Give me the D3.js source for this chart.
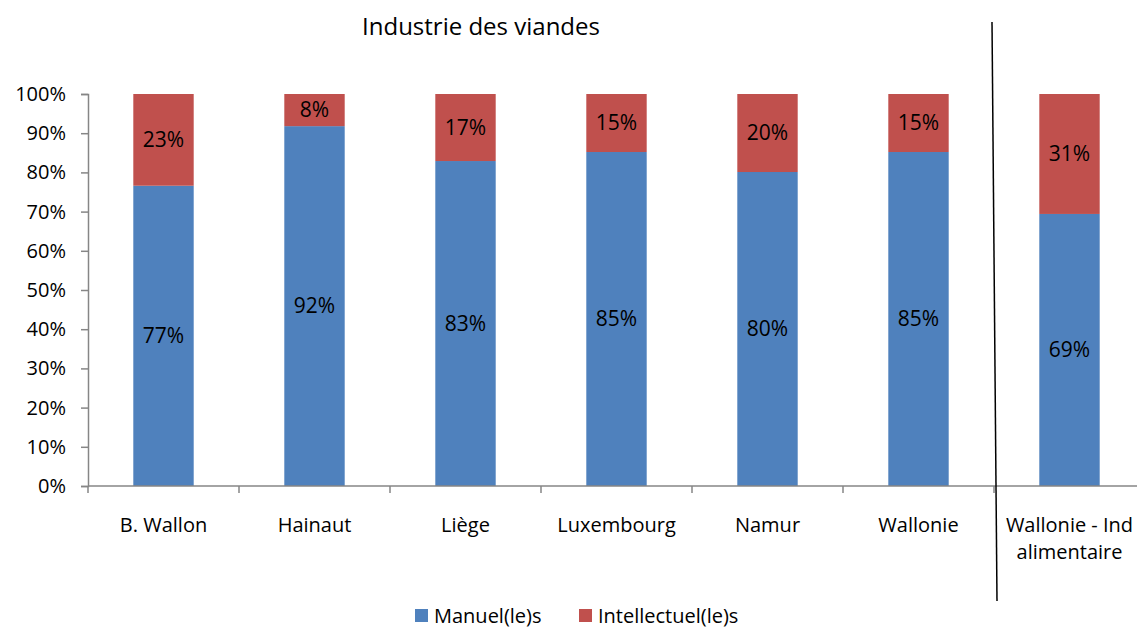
<!DOCTYPE html>
<html>
<head>
<meta charset="utf-8">
<script src="https://cdn.jsdelivr.net/npm/d3@7"></script>
<style>
  body { margin: 0; background: #fff; }
  svg text { font-family: "Open Sans", Lato, sans-serif; fill: #000; }
</style>
</head>
<body>
<div class="js-vis"></div>
<script>
"use strict";

var categories = ["B. Wallon", "Hainaut", "Liège", "Luxembourg", "Namur", "Wallonie", "Wallonie - Ind|alimentaire"];
var manuel = [76.6, 91.8, 82.9, 85.2, 80.1, 85.2, 69.4];
var intellectuel = [23.4, 8.2, 17.1, 14.8, 19.9, 14.8, 30.6];
var yTicks = [0, 10, 20, 30, 40, 50, 60, 70, 80, 90, 100];
var seriesNames = ["Manuel(le)s", "Intellectuel(le)s"];
var colors = ["#4f81bd", "#c0504d"];

var W = 1137, H = 629;
var plotLeft = 88, plotTop = 94, plotBottom = 486, plotRight = 1145;

var svg = d3.select(".js-vis").append("svg").attr("width", W).attr("height", H);

var x = d3.scaleBand().domain(categories).range([plotLeft, plotRight]).paddingInner(0.6).paddingOuter(0.3);
var xb = d3.scaleLinear().domain([0, categories.length]).range([plotLeft, plotRight]);
var y = d3.scaleLinear().domain([0, 100]).range([plotBottom, plotTop]);

// title
svg.append("text").attr("x", 481).attr("y", 35).attr("text-anchor", "middle")
  .style("font-size", "24px").text("Industrie des viandes");

// y axis
var yax = svg.append("g").attr("transform", "translate(" + plotLeft + ",0)")
  .call(d3.axisLeft(y).tickValues(yTicks).tickSize(7).tickPadding(15).tickFormat(function (d) { return d + "%"; }));
yax.selectAll("path, line").attr("stroke", "#868686").attr("stroke-width", 1.5);
yax.selectAll("text").style("font-size", "20px").style("font-family", "'Open Sans', sans-serif").attr("fill", "#000");

// stacked bars
var rows = categories.map(function (c, i) { return { cat: c, m: manuel[i], t: intellectuel[i] }; });
var stack = d3.stack().keys(["m", "t"])(rows);

var groups = svg.append("g").selectAll("g").data(stack).enter().append("g")
  .attr("fill", function (d, i) { return colors[i]; });

groups.selectAll("rect").data(function (d) { return d; }).enter().append("rect")
  .attr("x", function (d) { return x(d.data.cat); })
  .attr("width", x.bandwidth())
  .attr("y", function (d) { return y(d[1]); })
  .attr("height", function (d) { return y(d[0]) - y(d[1]); });

groups.selectAll("text").data(function (d) { return d; }).enter().append("text")
  .attr("x", function (d) { return x(d.data.cat) + x.bandwidth() / 2; })
  .attr("y", function (d) { return (y(d[0]) + y(d[1])) / 2 + 7; })
  .attr("text-anchor", "middle")
  .style("font-size", "21px")
  .text(function (d) { return Math.round(d[1] - d[0]) + "%"; });

// x axis
var xg = svg.append("g");
xg.append("line").attr("x1", plotLeft).attr("x2", plotRight).attr("y1", plotBottom).attr("y2", plotBottom)
  .attr("stroke", "#868686").attr("stroke-width", 1.5);
xg.selectAll(".tick").data(d3.range(categories.length + 1)).enter().append("line")
  .attr("x1", function (d) { return xb(d); }).attr("x2", function (d) { return xb(d); })
  .attr("y1", plotBottom).attr("y2", plotBottom + 7)
  .attr("stroke", "#868686").attr("stroke-width", 1.5);
xg.selectAll(".lbl").data(categories).enter().append("text")
  .attr("text-anchor", "middle")
  .attr("x", function (d) { return x(d) + x.bandwidth() / 2; })
  .attr("y", 532)
  .style("font-size", "20px")
  .each(function (d) {
    var parts = d.split("|");
    var t = d3.select(this);
    parts.forEach(function (p, i) {
      t.append("tspan").attr("x", t.attr("x")).attr("dy", i === 0 ? 0 : 27).text(p);
    });
  });

// separator line
var sx = xb(6);
svg.append("line").attr("x1", sx - 2).attr("y1", 22).attr("x2", sx + 3).attr("y2", 601)
  .attr("stroke", "#000").attr("stroke-width", 1.5);

// legend
var legX = [415, 579];
var leg = svg.append("g").selectAll("g").data(seriesNames).enter().append("g")
  .attr("transform", function (d, i) { return "translate(" + legX[i] + ",609)"; });
leg.append("rect").attr("width", 13).attr("height", 13).attr("fill", function (d, i) { return colors[i]; });
leg.append("text").attr("x", 19).attr("y", 14).style("font-size", "20px").text(function (d) { return d; });
</script>
</body>
</html>
